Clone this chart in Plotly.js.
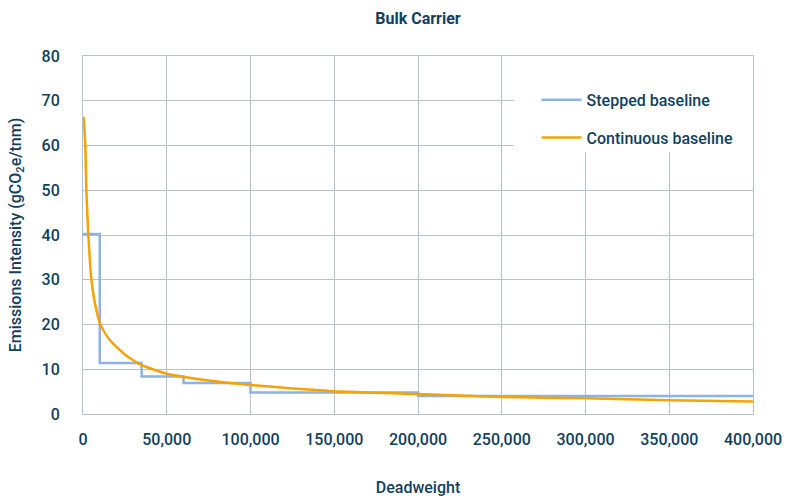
<!DOCTYPE html>
<html>
<head>
<meta charset="utf-8">
<script src="https://cdn.plot.ly/plotly-3.0.1.min.js"></script>
<style>html,body{margin:0;padding:0;background:#fff;}#chart{width:786px;height:497px;}</style>
</head>
<body>
<div id="chart"></div>
<script>
// Stepped baseline (deadweight breakpoints and levels, drawn with 'hv' steps)
const stepDWT = [0, 10000, 35000, 60000, 100000, 200000, 400000];
const stepValues = [40.2, 11.4, 8.4, 6.9, 4.8, 4.0, 4.0];

// Continuous baseline
const contDWT = [500, 1000, 1400, 2000, 3200, 5000, 7000, 10400, 15000, 20000, 25000, 30000, 35000, 50000, 75000, 100000, 150000, 200000, 250000, 300000, 350000, 400000];
const contValues = [66.4, 62.5, 60, 50, 40, 30, 25, 20, 17.0, 15.0, 13.3, 12.0, 10.9, 9.0, 7.5, 6.5, 5.1, 4.45, 3.8, 3.5, 3.1, 2.8];

const chartTitle = 'Bulk Carrier';
const xTitle = 'Deadweight';
const yTitle = 'Emissions Intensity (gCO<sub>2</sub>e/tnm)';
const seriesNames = ['Stepped baseline', 'Continuous baseline'];

const textColor = '#123f5c';
const gridColor = '#b3c2cb';
const fontFam = 'Roboto, "Open Sans", sans-serif';

const traces = [
  {
    x: stepDWT, y: stepValues, name: seriesNames[0], type: 'scatter', mode: 'lines',
    line: {shape: 'hv', color: '#8db3e2', width: 2.5}, legendgroup: 'a'
  },
  {
    x: contDWT, y: contValues, name: seriesNames[1], type: 'scatter', mode: 'lines',
    line: {shape: 'spline', smoothing: 0.5, color: '#f5a300', width: 2.5}, legendgroup: 'b'
  }
];

const layout = {
  width: 786, height: 497,
  margin: {l: 83, r: 33, t: 56, b: 83},
  paper_bgcolor: '#fff', plot_bgcolor: '#fff',
  font: {family: fontFam, color: textColor, size: 16, weight: 500},
  title: {text: '<b>' + chartTitle + '</b>', x: 0.5, xref: 'paper', y: 1 - 18/497, yref: 'container', yanchor: 'middle', font: {size: 16, color: textColor, family: fontFam}},
  xaxis: {
    range: [0, 400000], dtick: 50000, tick0: 0, tickformat: ',d',
    showgrid: true, gridcolor: gridColor, gridwidth: 1,
    showline: true, linecolor: gridColor, linewidth: 1, mirror: true,
    zeroline: false, ticks: '', ticklabelstandoff: 11,
    tickfont: {size: 16, color: textColor, family: fontFam, weight: 500},
    title: {text: xTitle, standoff: 37, font: {size: 16, color: textColor, family: fontFam, weight: 500}},
    automargin: false
  },
  yaxis: {
    range: [0, 80], dtick: 10, tick0: 0,
    showgrid: true, gridcolor: gridColor, gridwidth: 1,
    showline: true, linecolor: gridColor, linewidth: 1, mirror: true,
    zeroline: false, ticks: '', ticklabelstandoff: 19,
    tickfont: {size: 16, color: textColor, family: fontFam, weight: 500},
    title: {text: yTitle, standoff: 16, font: {size: 16, color: textColor, family: fontFam, weight: 500}},
    automargin: false
  },
  shapes: [{
    type: 'rect', layer: 'between', xref: 'x', yref: 'y',
    x0: 257000, x1: 400000, y0: 58.5, y1: 80,
    fillcolor: '#ffffff', line: {width: 0}
  }],
  legend: {
    x: 0.677, xanchor: 'left', y: 0.925, yanchor: 'top',
    bgcolor: 'rgba(0,0,0,0)', borderwidth: 0,
    font: {size: 16, color: textColor, family: fontFam, weight: 500},
    traceorder: 'grouped', tracegroupgap: 14, itemwidth: 40
  },
  showlegend: true
};

Plotly.newPlot('chart', traces, layout, {displayModeBar: false, staticPlot: true});
</script>
</body>
</html>
